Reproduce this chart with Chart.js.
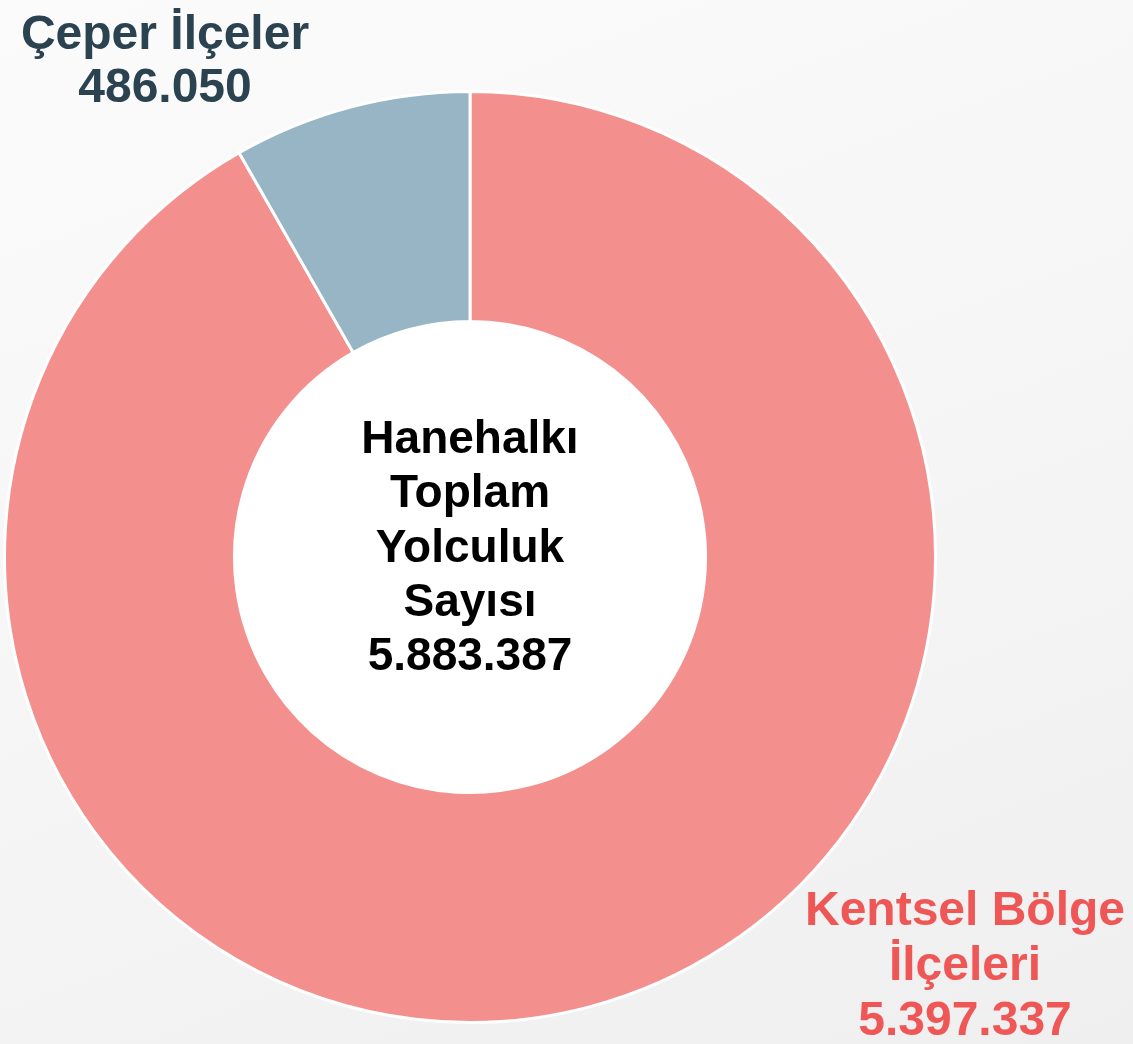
<!DOCTYPE html>
<html lang="tr">
<head>
<meta charset="utf-8">
<script src="https://cdn.jsdelivr.net/npm/chart.js@4.4.1/dist/chart.umd.min.js"></script>
<style>
    html, body {
        margin: 0;
        padding: 0;
        width: 1133px;
        height: 1044px;
        overflow: hidden;
        background: linear-gradient(160deg, #fbfbfb 0%, #f5f5f5 55%, #efefef 100%);
    }
    #wrap {
        position: relative;
        width: 1133px;
        height: 1044px;
    }
</style>
</head>
<body>
<div id="wrap"><canvas id="yolculukChart"></canvas></div>
<script>
// Hanehalkı yolculuk sayıları (bölgelere göre)
const bolgeler = ['Kentsel Bölge İlçeleri', 'Çeper İlçeler'];
const yolculuk = [5397337, 486050];
const toplamBaslik = ['Hanehalkı', 'Toplam', 'Yolculuk', 'Sayısı'];
const renkler = ['#f38f8d', '#97b5c5'];

// sayıyı 5.883.387 biçiminde yaz
function binlik(n) {
    return String(n).replace(/\B(?=(\d{3})+(?!\d))/g, '.');
}

const toplam = yolculuk.reduce((a, b) => a + b, 0);

// ortadaki beyaz daire
const icDaire = {
    id: 'icDaire',
    beforeDatasetsDraw(chart) {
        const arc = chart.getDatasetMeta(0).data[0];
        if (!arc) return;
        const ctx = chart.ctx;
        ctx.save();
        ctx.beginPath();
        ctx.arc(arc.x, arc.y, arc.innerRadius, 0, Math.PI * 2);
        ctx.fillStyle = '#ffffff';
        ctx.fill();
        ctx.restore();
    }
};

// etiketler: orta metin ve dilim açıklamaları
const etiketler = {
    id: 'etiketler',
    afterDatasetsDraw(chart) {
        const arc = chart.getDatasetMeta(0).data[0];
        if (!arc) return;
        const ctx = chart.ctx;
        const cx = arc.x, cy = arc.y;
        ctx.save();
        ctx.textAlign = 'center';
        ctx.textBaseline = 'alphabetic';

        // orta yazı
        ctx.font = 'bold 46px "Liberation Sans", Arial, sans-serif';
        ctx.fillStyle = '#000000';
        const satirlar = toplamBaslik.concat([binlik(toplam)]);
        satirlar.forEach((s, i) => {
            ctx.fillText(s, cx, cy - 104 + i * 54.3);
        });

        ctx.font = 'bold 48px "Liberation Sans", Arial, sans-serif';

        // Çeper İlçeler
        ctx.fillStyle = '#2b4250';
        ctx.fillText('Çeper İlçeler', cx - 305, cy - 508);
        ctx.fillText(binlik(yolculuk[1]), cx - 305, cy - 455);

        // Kentsel Bölge İlçeleri
        ctx.fillStyle = '#ef5757';
        ctx.fillText('Kentsel Bölge', cx + 495, cy + 368);
        ctx.fillText('İlçeleri', cx + 495, cy + 423);
        ctx.fillText(binlik(yolculuk[0]), cx + 495, cy + 478);
        ctx.restore();
    }
};

const ctx = document.getElementById('yolculukChart').getContext('2d');
new Chart(ctx, {
    type: 'doughnut',
    data: {
        labels: bolgeler,
        datasets: [{
            data: yolculuk,
            backgroundColor: renkler,
            borderColor: '#ffffff',
            borderWidth: 3
        }]
    },
    options: {
        responsive: true,
        maintainAspectRatio: false,
        animation: false,
        cutout: '50.6%',
        layout: {
            padding: { left: 3, right: 196, top: 89, bottom: 19 }
        },
        plugins: {
            legend: { display: false },
            tooltip: { enabled: false }
        }
    },
    plugins: [icDaire, etiketler]
});
</script>
</body>
</html>
